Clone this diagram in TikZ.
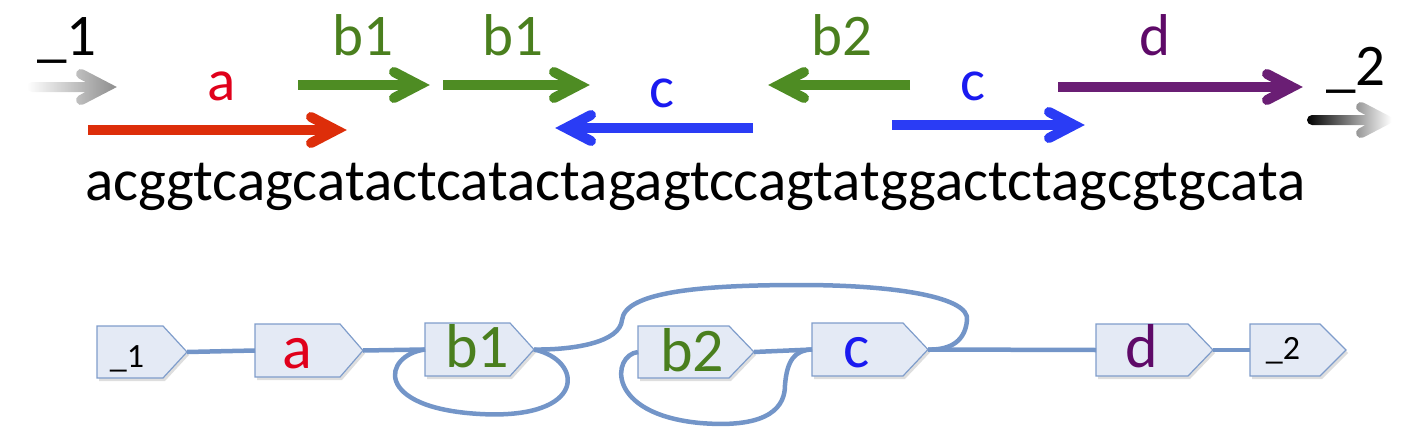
\documentclass[tikz,border=0pt]{standalone}
\usepackage{fontspec}
\setmainfont{Carlito}
\usetikzlibrary{calc,fadings,backgrounds}
\definecolor{cred}{HTML}{DD2E0A}
\definecolor{cgreen}{HTML}{4E8C23}
\definecolor{cblue}{HTML}{2A3CF5}
\definecolor{cpurple}{HTML}{6A1E74}
\definecolor{lred}{HTML}{E0001B}
\definecolor{lgreen}{HTML}{4A7F1E}
\definecolor{lblue}{HTML}{1A1AF0}
\definecolor{lpurple}{HTML}{5E0A68}
\definecolor{boxfill}{HTML}{E4EAF5}
\definecolor{boxedge}{HTML}{7F9DCB}
\definecolor{conn}{HTML}{7395C8}
\tikzfading[name=fadein, left color=transparent!100, right color=transparent!0]
\tikzfading[name=fadeout, left color=transparent!0, right color=transparent!100]
\tikzset{
  arrowline/.style={line width=10pt},
  biglabel/.style={inner sep=0pt, anchor=base, font=\fontsize{59}{61}\selectfont},
  boxlabel/.style={inner sep=0pt, anchor=base, font=\fontsize{62}{64}\selectfont},
  smalllabel/.style={inner sep=0pt, anchor=base, font=\fontsize{34}{36}\selectfont},
  boxline/.style={draw=boxedge, fill=boxfill, line width=1.2pt, line join=miter},
  boxshadow/.style={fill=black, opacity=0.13},
  connector/.style={draw=conn, line width=4.5pt},
}
% style, tail x, visible tip x, y, direction (1 right, -1 left)
\newcommand{\seqarr}[5]{%
  \draw[#1, arrowline, line cap=butt] (#2,#4) -- ({#3-11*#5},#4);
  \draw[#1, arrowline, line cap=round, line join=miter] ({#3-36*#5},{#4-13}) -- ({#3-11*#5},#4) -- ({#3-36*#5},{#4+13});}
% name, left, top, rect right, tip, bottom
\newcommand{\gbox}[6]{%
  \fill[boxshadow] ({#2+2},{#3+3}) -- ({#4+2},{#3+3}) -- ({#5+2},{(#3+#6)/2+3}) -- ({#4+2},{#6+3}) -- ({#2+2},{#6+3}) -- cycle;
  \draw[boxline] (#2,#3) -- (#4,#3) -- (#5,{(#3+#6)/2}) -- (#4,#6) -- (#2,#6) -- cycle;
  \coordinate (#1-in) at (#2,{(#3+#6)/2});
  \coordinate (#1-out) at (#5,{(#3+#6)/2});}
\begin{document}
\begin{tikzpicture}[x=1pt,y=-1pt]
\useasboundingbox (0,0) rectangle (1414,439);
% ---------- top: sequence with arrows ----------
\draw[gray!85, arrowline, line cap=round, line join=miter, path fading=fadein]
  (32,87) -- (106,87) (81,74) -- (106,87) -- (81,100);
\draw[black, arrowline, line cap=round, line join=miter, path fading=fadeout]
  (1312,120) -- (1386,120) (1361,107) -- (1386,120) -- (1361,133);
\seqarr{cred}{88}{347}{130}{1}
\seqarr{cgreen}{298}{430}{85}{1}
\seqarr{cgreen}{443}{590}{85}{1}
\seqarr{cblue}{753}{555}{128}{-1}
\seqarr{cgreen}{910}{768}{85}{-1}
\seqarr{cblue}{892}{1085}{125}{1}
\seqarr{cpurple}{1058}{1303}{87}{1}

\node[biglabel, text=black] (t1) at (67,55) {\_1};
\node[biglabel, text=lred] (ta) at (222,100) {a};
\node[biglabel, text=lgreen] (tb1) at (363,55) {b1};
\node[biglabel, text=lgreen] (tb1b) at (513,55) {b1};
\node[biglabel, text=lblue] (tc) at (662,107) {c};
\node[biglabel, text=lgreen] (tb2) at (842,55) {b2};
\node[biglabel, text=lblue] (tcb) at (973,100) {c};
\node[biglabel, text=lpurple] (td) at (1155,55) {d};
\node[biglabel, text=black] (t2) at (1356,85) {\_2};
\node[biglabel, text=black, anchor=base west] (seq) at (85,200) {acggtcagcatactcatactagagtccagtatggactctagcgtgcata};

% ---------- bottom: graph ----------
\gbox{n1}{97}{326}{163}{187}{378}
\gbox{a}{255}{324}{340}{363}{377}
\gbox{b1}{425}{323}{510}{534}{376}
\gbox{b2}{638}{326}{729}{754}{378}
\gbox{c}{812}{323}{903}{928}{376}
\gbox{d}{1096}{324}{1188}{1213}{376}
\gbox{n2}{1250}{324}{1320}{1346}{376}

\node[smalllabel, text=black] (l1) at (127,367) {\_1};
\node[boxlabel, text=lred] (la) at (297,368) {a};
\node[boxlabel, text=lgreen] (lb1) at (477,367) {b1};
\node[boxlabel, text=lgreen] (lb2) at (692,371) {b2};
\node[boxlabel, text=lblue] (lc) at (857,367) {c};
\node[boxlabel, text=lpurple] (ld) at (1142,367) {d};
\node[smalllabel, text=black] (l2) at (1283,359) {\_2};

\draw[connector] (n1-out) -- (a-in);
\draw[connector] (a-out) -- (b1-in);
\draw[connector] (b1-in) .. controls (383,355) and (372,408) .. (480,414)
                 .. controls (588,420) and (584,360) .. (b1-out);
\draw[connector] (b1-out) .. controls (575,350) and (620,342) .. (622,320)
                 .. controls (625,292) and (700,285) .. (800,285)
                 .. controls (900,285) and (970,298) .. (967,320)
                 .. controls (965,345) and (945,350) .. (c-out);
\draw[connector] (b2-out) -- (c-in);
\draw[connector] (b2-in) .. controls (612,355) and (605,414) .. (700,423)
                 .. controls (772,429) and (785,405) .. (785,385)
                 .. controls (787,360) and (795,350) .. (c-in);
\draw[connector] (c-out) -- (d-in);
\draw[connector] (d-out) -- (n2-in);
\end{tikzpicture}
\end{document}
